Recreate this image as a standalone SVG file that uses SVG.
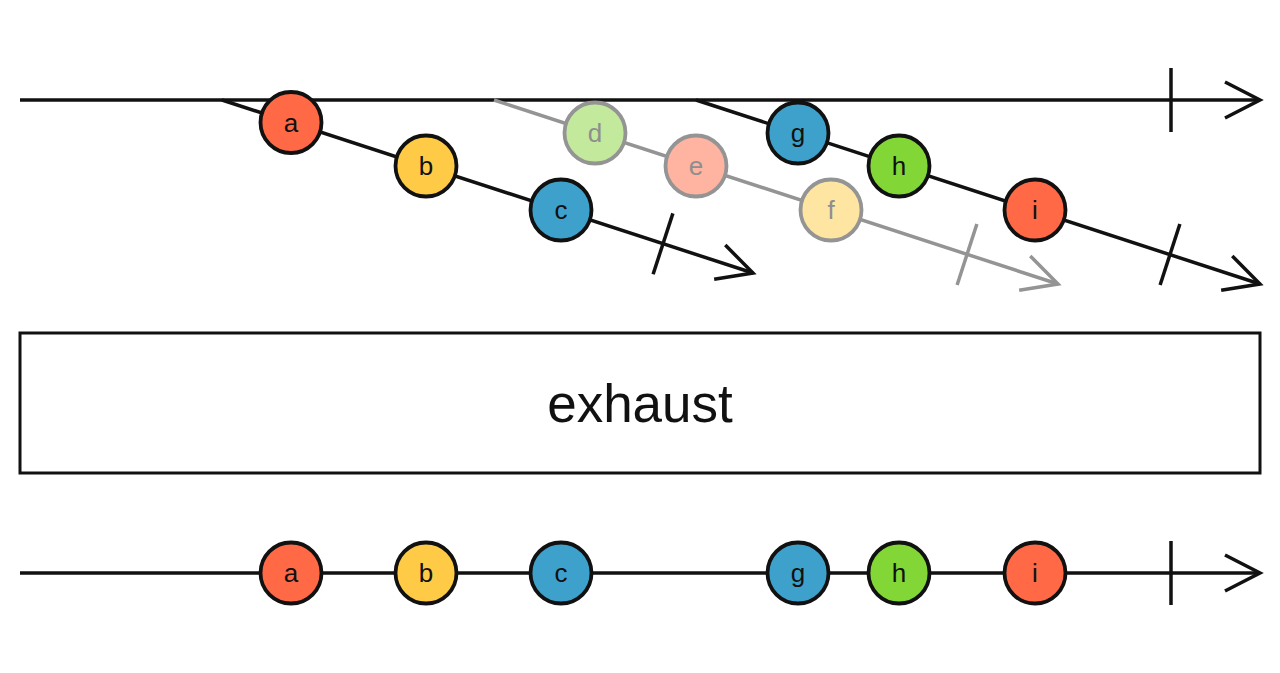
<svg xmlns="http://www.w3.org/2000/svg" width="1280" height="673" viewBox="0 0 1280 673">
<style>
.ln{fill:none;stroke:#111;stroke-width:3.5;stroke-linecap:butt}
.gl{fill:none;stroke:#949494;stroke-width:3.5}
.m{stroke:#111;stroke-width:3.8}
.mg{stroke:#949494;stroke-width:3.8}
.t{font-family:"Liberation Sans",Arial,sans-serif;font-size:26px;text-anchor:middle;fill:#111}
.tg{font-family:"Liberation Sans",Arial,sans-serif;font-size:26px;text-anchor:middle;fill:#8e8e8e}
.red{fill:#FF6946}.yel{fill:#FFCB46}.blu{fill:#3EA1CB}.grn{fill:#82D736}
.lgrn{fill:#C3E99C}.lred{fill:#FFB3A1}.lyel{fill:#FFE5A2}
</style>
<rect width="1280" height="673" fill="#fff"/>
<g id="connectors">
  <line class="ln" x1="20" y1="100" x2="1260" y2="100"/>
  <path class="ln" d="M1225,82 L1260,100 L1225,118"/>
  <line class="ln" x1="1171" y1="68" x2="1171" y2="132"/>
  <line class="gl" x1="494" y1="100" x2="1058" y2="284"/>
  <g transform="translate(1058,284) rotate(18)"><path class="gl" d="M-35,-18 L0,0 L-35,18"/></g>
  <g transform="translate(967,254.5) rotate(18)"><line class="gl" x1="0" y1="-32" x2="0" y2="32"/></g>
  <line class="ln" x1="222" y1="100" x2="753" y2="273"/>
  <g transform="translate(753,273) rotate(18)"><path class="ln" d="M-35,-18 L0,0 L-35,18"/></g>
  <g transform="translate(663,243.8) rotate(18)"><line class="ln" x1="0" y1="-32" x2="0" y2="32"/></g>
  <line class="ln" x1="696" y1="100" x2="1260" y2="284"/>
  <g transform="translate(1260,284) rotate(18)"><path class="ln" d="M-35,-18 L0,0 L-35,18"/></g>
  <g transform="translate(1170,254.5) rotate(18)"><line class="ln" x1="0" y1="-32" x2="0" y2="32"/></g>
  <line class="ln" x1="20" y1="573" x2="1260" y2="573"/>
  <path class="ln" d="M1225,555 L1260,573 L1225,591"/>
  <line class="ln" x1="1171" y1="541" x2="1171" y2="605"/>
</g>
<g id="in-a"><circle class="m red" cx="291" cy="122.5" r="30.5"/><text class="t" x="291" y="131.5">a</text></g>
<g id="in-b"><circle class="m yel" cx="426" cy="166" r="30.5"/><text class="t" x="426" y="175">b</text></g>
<g id="in-c"><circle class="m blu" cx="561" cy="210" r="30.5"/><text class="t" x="561" y="219">c</text></g>
<g id="in-d"><circle class="mg lgrn" cx="595" cy="133" r="30.5"/><text class="tg" x="595" y="142">d</text></g>
<g id="in-e"><circle class="mg lred" cx="696" cy="166" r="30.5"/><text class="tg" x="696" y="175">e</text></g>
<g id="in-f"><circle class="mg lyel" cx="831" cy="210" r="30.5"/><text class="tg" x="831" y="219">f</text></g>
<g id="in-g"><circle class="m blu" cx="798" cy="133" r="30.5"/><text class="t" x="798" y="142">g</text></g>
<g id="in-h"><circle class="m grn" cx="899" cy="166" r="30.5"/><text class="t" x="899" y="175">h</text></g>
<g id="in-i"><circle class="m red" cx="1035" cy="210" r="30.5"/><text class="t" x="1035" y="219">i</text></g>
<g id="operator">
  <rect x="20" y="333" width="1240" height="140" fill="#fff" stroke="#111" stroke-width="3"/>
  <text x="640" y="422" font-family="'Liberation Sans',Arial,sans-serif" font-size="53" text-anchor="middle" fill="#111">exhaust</text>
</g>
<g id="out-a"><circle class="m red" cx="291" cy="573" r="30.5"/><text class="t" x="291" y="582">a</text></g>
<g id="out-b"><circle class="m yel" cx="426" cy="573" r="30.5"/><text class="t" x="426" y="582">b</text></g>
<g id="out-c"><circle class="m blu" cx="561" cy="573" r="30.5"/><text class="t" x="561" y="582">c</text></g>
<g id="out-g"><circle class="m blu" cx="798" cy="573" r="30.5"/><text class="t" x="798" y="582">g</text></g>
<g id="out-h"><circle class="m grn" cx="899" cy="573" r="30.5"/><text class="t" x="899" y="582">h</text></g>
<g id="out-i"><circle class="m red" cx="1035" cy="573" r="30.5"/><text class="t" x="1035" y="582">i</text></g>
</svg>
